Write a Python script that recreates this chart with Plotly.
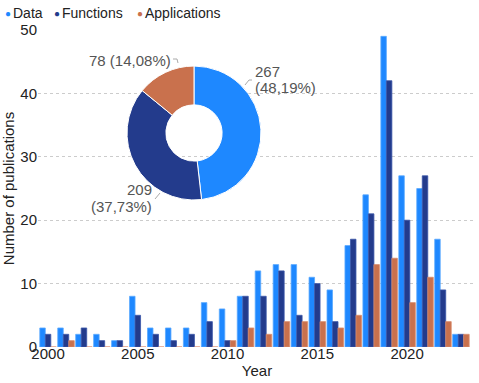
import plotly.graph_objects as go

years = list(range(2000, 2024))
data_counts = [3, 3, 2, 2, 1, 8, 3, 3, 3, 7, 6, 8, 12, 13, 13, 11, 9, 16, 24, 49, 27, 25, 17, 2]
function_counts = [2, 2, 3, 1, 1, 5, 2, 1, 2, 4, 1, 8, 8, 12, 5, 10, 4, 17, 21, 42, 20, 27, 9, 2]
application_counts = [0, 1, 0, 0, 0, 0, 0, 0, 0, 0, 1, 3, 2, 4, 4, 4, 3, 5, 13, 14, 7, 11, 4, 2]

series_names = ["Data", "Functions", "Applications"]
series_values = [data_counts, function_counts, application_counts]
colors = ["#1E88FF", "#233B8C", "#C9714D"]
edge_colors = ["#5AAAFF", "#3A56A8", "#D88C6C"]

pie_values = [sum(v) for v in series_values]
x_ticks = [2000, 2005, 2010, 2015, 2020]

FONT = "Arial, Liberation Sans, sans-serif"

fig = go.Figure()
for name, vals, c, ec in zip(series_names, series_values, colors, edge_colors):
    fig.add_trace(go.Bar(x=years, y=vals, name=name, marker=dict(color=c, line=dict(color=ec, width=0.8)),
                         showlegend=False))

fig.add_trace(go.Pie(values=pie_values, labels=series_names, hole=0.42, sort=False,
                     direction="clockwise", rotation=0, textinfo="none",
                     marker=dict(colors=colors, line=dict(color="white", width=1)),
                     domain=dict(x=[0.2032, 0.5091], y=[0.4637, 0.8864]), showlegend=False))

total = sum(pie_values)
def pct(v):
    return f"{v / total * 100:.2f}".replace(".", ",") + "%"

W, H, L, T, B, R = 479, 383, 38, 30, 36, 3
pw, ph = W - L - R, H - T - B
def px(x):
    return (x - L) / pw
def py(y):
    return (H - B - y) / ph

lab_font = dict(family=FONT, size=15, color="#555555")
ann = [
    dict(text=str(pie_values[0]), x=px(253), y=py(71), xanchor="left"),
    dict(text=f"({pct(pie_values[0])})", x=px(253), y=py(87.5), xanchor="left"),
    dict(text=str(pie_values[1]), x=px(154), y=py(189), xanchor="right"),
    dict(text=f"({pct(pie_values[1])})", x=px(154), y=py(206), xanchor="right"),
    dict(text=f"{pie_values[2]} ({pct(pie_values[2])})", x=px(173), y=py(61), xanchor="right"),
]
for a in ann:
    fig.add_annotation(xref="paper", yref="paper", showarrow=False, yanchor="middle",
                       font=lab_font, **a)

# legend (bullets + names)
legend_dot_x = [8, 57, 140]
for name, c, dx in zip(series_names, colors, legend_dot_x):
    fig.add_annotation(xref="paper", yref="paper", showarrow=False, x=px(dx), y=py(13.5),
                       xanchor="center", yanchor="middle", text="●",
                       font=dict(family=FONT, size=10, color=c))
    fig.add_annotation(xref="paper", yref="paper", showarrow=False, x=px(dx + 3), y=py(13),
                       xanchor="left", yanchor="middle", text=name,
                       font=dict(family=FONT, size=14, color="#222222"))

def path(pts):
    return "M " + " L ".join(f"{px(x)},{py(y)}" for x, y in pts)

for pts in ([(245, 85), (249, 80), (252, 80)], [(155, 199), (160, 193)], [(173, 59), (177, 59), (178, 63)]):
    fig.add_shape(type="path", xref="paper", yref="paper", path=path(pts),
                  line=dict(color="#AAAAAA", width=1))

fig.update_layout(
    width=W, height=H,
    margin=dict(l=L, r=R, t=T, b=B, autoexpand=False),
    paper_bgcolor="white", plot_bgcolor="white",
    barmode="group", bargap=0.08, bargroupgap=0.0,
    font=dict(family=FONT, size=15, color="#222222"),
    showlegend=False,
    xaxis=dict(range=[1999.44, 2023.84], tickvals=x_ticks, showgrid=False, zeroline=False,
               showline=False, ticks="", tickfont=dict(size=15, color="#222222"),
               ticklabelstandoff=-4,
               title=dict(text="Year", font=dict(size=15, color="#222222"), standoff=0),
               automargin=False),
    yaxis=dict(range=[0, 50], dtick=10, showgrid=True, gridcolor="#CCCCCC", griddash="dot",
               gridwidth=1, zeroline=False, showline=False, ticks="",
               tickfont=dict(size=15, color="#222222"),
               title=dict(text="Number of publications", font=dict(size=15, color="#222222"), standoff=9),
               automargin=False),
)

fig.write_html("out.html", config={"displayModeBar": False},
               post_script="document.body.style.margin='0';")
